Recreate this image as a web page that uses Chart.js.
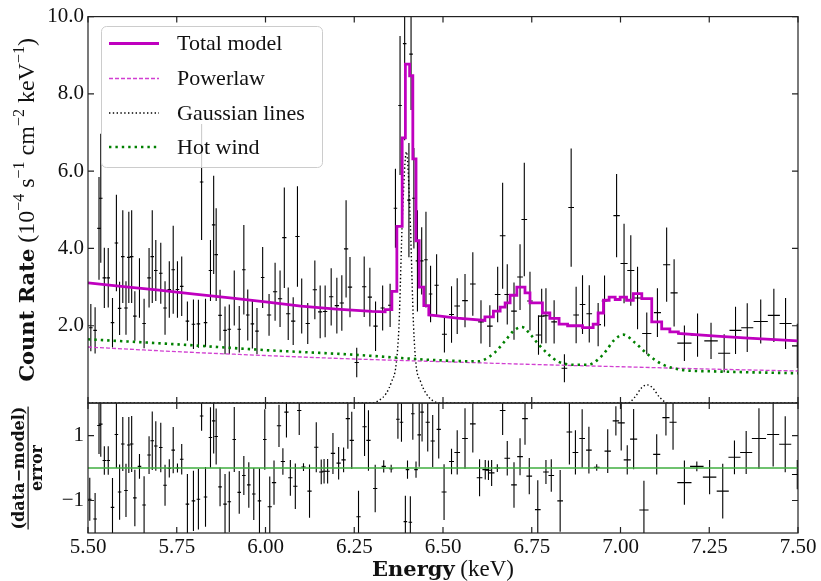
<!DOCTYPE html>
<html><head><meta charset="utf-8">
<script src="https://cdn.jsdelivr.net/npm/chart.js@4.4.1/dist/chart.umd.min.js"></script>
<style>html,body{margin:0;padding:0;background:#fff;}canvas{display:block}</style>
</head><body>
<canvas id="c" width="821" height="581"></canvas>
<script>
// ---------------- data ----------------
const energy = [5.508,5.520,5.531,5.536,5.546,5.557,5.569,5.580,5.589,5.598,
5.607,5.615,5.623,5.632,5.645,5.658,5.672,5.681,5.691,5.705,
5.717,5.729,5.740,5.752,5.764,5.780,5.797,5.811,5.820,5.831,
5.845,5.854,5.861,5.872,5.886,5.898,5.912,5.926,5.939,5.950,
5.963,5.976,5.992,
6.010,6.027,6.041,6.053,6.064,6.078,6.090,6.102,6.119,6.139,
6.154,6.168,6.185,6.201,6.215,6.227,6.238,6.257,6.278,6.294,
6.310,6.330,6.351,
6.366,6.379,6.392,6.404,6.410,6.418,6.428,6.440,6.452,6.465,
6.482,6.504,6.524,6.540,6.562,
6.584,6.607,6.632,6.654,6.668,6.681,6.700,6.717,6.729,6.745,
6.769,6.778,6.790,6.813,6.842,6.861,6.875,6.893,6.912,6.937,
6.955,6.989,
7.010,7.029,7.048,7.074,7.104,7.130,7.151,
7.180,7.217,7.255,7.292,7.324,7.357,7.395,7.432,7.465,7.498];
const energyErr = [0.005,0.005,0.005,0.005,0.005,0.005,0.005,0.005,0.005,0.005,
0.005,0.005,0.005,0.005,0.005,0.005,0.005,0.005,0.005,0.005,
0.005,0.005,0.005,0.005,0.005,0.005,0.005,0.005,0.005,0.005,
0.005,0.005,0.005,0.005,0.005,0.005,0.005,0.005,0.005,0.005,
0.005,0.005,0.005,
0.006,0.006,0.006,0.006,0.006,0.006,0.006,0.006,0.006,0.006,
0.006,0.006,0.006,0.006,0.006,0.006,0.006,0.006,0.006,0.006,
0.006,0.006,0.006,
0.005,0.005,0.005,0.005,0.005,0.005,0.005,0.005,0.005,0.005,
0.006,0.007,0.007,0.008,0.008,
0.008,0.008,0.008,0.008,0.008,0.008,0.008,0.008,0.008,0.008,
0.008,0.008,0.008,0.008,0.008,0.008,0.008,0.008,0.008,0.008,
0.008,0.009,
0.010,0.010,0.010,0.013,0.010,0.010,0.010,
0.020,0.019,0.019,0.017,0.017,0.017,0.020,0.017,0.017,0.015];
const rate = [1.95,1.88,4.52,5.30,3.24,3.24,2.08,4.14,2.45,3.79,
2.46,3.77,3.79,2.25,2.98,2.06,3.24,3.79,3.43,3.36,
2.46,2.94,3.45,2.94,3.02,2.12,2.04,2.05,5.72,2.08,
3.43,4.61,3.84,2.27,1.88,1.91,2.72,1.91,3.45,2.28,
2.05,1.86,3.25,
2.28,2.88,2.70,4.28,2.31,2.12,4.31,2.51,2.06,2.93,
2.36,2.37,2.75,2.52,2.59,3.99,3.00,1.05,3.01,2.74,
1.99,2.46,2.53,
5.04,7.70,9.30,5.25,9.03,5.30,3.68,3.68,3.71,2.82,
3.05,1.78,2.29,2.51,2.65,
3.08,2.10,1.99,2.81,4.33,2.81,2.38,3.26,4.75,2.64,
1.76,2.25,2.26,2.10,0.90,5.06,2.28,2.55,2.31,2.03,
2.64,4.85,
3.61,3.43,2.72,1.80,2.34,3.58,2.85,
1.55,1.76,1.61,1.29,1.88,1.95,2.11,2.27,2.06,1.48];
const rateErr = [0.61,0.60,1.33,1.67,0.78,0.77,0.64,1.25,0.69,1.20,
0.69,1.18,1.20,0.64,0.77,0.64,0.77,1.20,0.79,0.79,
0.69,0.73,1.14,0.73,0.77,0.51,0.64,0.62,1.50,0.62,
0.79,1.27,1.20,0.66,0.62,0.64,0.71,0.60,1.16,0.66,
0.64,0.60,0.79,
0.54,0.75,0.73,1.30,0.68,0.62,1.30,0.71,0.53,0.76,
0.68,0.67,0.74,0.72,0.72,1.26,0.78,0.38,0.78,0.76,
0.64,0.58,0.56,
1.02,1.80,2.50,1.48,1.45,1.30,1.31,0.87,1.24,0.73,
0.80,0.47,0.73,0.72,0.69,
0.82,0.56,0.54,0.72,1.37,0.78,0.74,0.85,1.47,0.76,
0.51,0.71,0.71,0.56,0.36,1.53,0.73,0.76,0.74,0.56,
0.66,1.08,
1.03,0.91,0.81,0.54,0.63,0.96,0.87,
0.46,0.56,0.47,0.49,0.61,0.63,0.57,0.69,0.66,0.57];

const resEnergy = [5.505,5.520,5.531,5.536,5.546,5.557,5.569,5.580,5.589,5.598,
5.607,5.615,5.623,5.632,5.645,5.658,5.672,5.681,5.691,5.705,
5.717,5.729,5.740,5.752,5.764,5.780,5.797,5.811,5.820,5.831,
5.845,5.854,5.861,5.872,5.886,5.898,5.912,5.926,5.939,5.953,
5.967,5.983,5.998,6.012,6.024,6.038,6.049,6.059,6.070,6.084,
6.095,6.107,6.124,6.143,6.157,6.165,6.175,6.190,6.206,6.220,
6.232,6.243,6.262,6.279,6.290,6.309,6.333,6.354,6.373,6.383,
6.394,6.400,6.408,6.415,6.424,6.433,6.441,6.457,6.471,6.488,
6.503,6.524,6.540,6.562,6.584,6.603,6.619,6.628,6.637,6.653,
6.668,6.681,6.700,6.717,6.731,6.743,6.767,6.790,6.805,6.830,
6.856,6.873,6.892,6.911,6.933,6.964,6.987,7.002,7.019,7.037,
7.066,7.102,7.128,7.148,7.180,7.215,7.251,7.288,7.321,7.354,
7.390,7.430,7.464,7.498];
const resEnergyErr = [0.005,0.005,0.005,0.005,0.005,0.005,0.005,0.005,0.005,0.005,
0.005,0.005,0.005,0.005,0.005,0.005,0.005,0.005,0.005,0.005,
0.005,0.005,0.005,0.005,0.005,0.005,0.005,0.005,0.005,0.005,
0.005,0.005,0.005,0.005,0.005,0.005,0.005,0.005,0.005,0.005,
0.005,0.005,0.005,0.006,0.006,0.006,0.006,0.006,0.006,0.006,
0.006,0.006,0.006,0.006,0.006,0.006,0.006,0.006,0.006,0.006,
0.006,0.006,0.006,0.006,0.006,0.006,0.006,0.006,0.005,0.005,
0.005,0.005,0.005,0.005,0.005,0.005,0.005,0.006,0.006,0.006,
0.007,0.007,0.008,0.008,0.008,0.008,0.008,0.008,0.008,0.008,
0.008,0.008,0.008,0.008,0.008,0.008,0.008,0.008,0.008,0.008,
0.008,0.008,0.008,0.008,0.008,0.009,0.009,0.010,0.010,0.010,
0.013,0.010,0.010,0.010,0.020,0.019,0.019,0.017,0.017,0.017,
0.020,0.017,0.017,0.015];
const resid = [-0.96,-1.57,1.31,1.35,0.23,0.23,-1.21,1.03,-0.74,0.74,
-0.69,0.71,0.74,-0.92,0.05,-1.14,0.40,0.84,0.68,0.63,
-0.53,-0.01,0.55,0.00,0.27,-1.11,-1.01,-0.96,1.60,-0.89,
0.94,1.45,0.97,-0.58,-1.11,-1.04,0.88,-0.75,-0.23,-0.52,
-0.80,-1.01,0.88,-1.19,-0.45,1.30,0.20,1.72,-0.30,-0.56,
1.77,0.03,-0.71,0.64,-0.12,-0.10,-0.10,0.45,0.15,0.25,
1.52,0.85,-1.50,1.27,0.85,-0.63,0.05,-0.02,1.50,1.41,
-1.65,-0.05,-1.67,1.67,-0.05,1.02,1.72,1.41,0.83,1.19,
-0.74,0.20,0.48,0.91,1.36,-0.30,-0.05,-0.07,-0.15,0.00,
1.77,0.30,-0.52,0.35,1.52,-0.25,-1.28,-0.12,-0.23,-1.01,
1.11,0.48,0.91,0.55,0.02,0.52,1.45,1.39,0.25,0.89,
-1.29,0.42,1.55,1.41,-0.45,0.05,-0.28,-0.71,0.33,0.48,
0.91,1.03,0.73,-0.20];
const residErr = [0.66,0.80,0.88,1.00,0.44,0.44,0.90,1.03,0.85,0.83,
0.82,0.86,0.86,0.87,0.38,0.89,0.58,0.90,0.76,0.76,
0.63,0.28,0.71,0.14,0.47,0.93,0.93,0.93,0.45,0.92,
0.93,1.00,0.86,0.60,0.93,0.93,1.00,0.66,0.60,0.70,
0.80,1.00,0.93,0.93,0.68,0.65,0.41,0.78,0.55,0.70,
0.75,0.12,0.82,0.77,0.38,0.38,0.38,0.63,0.50,0.38,
0.93,0.88,0.80,0.90,0.93,0.73,0.19,0.12,0.60,0.60,
0.80,0.28,0.80,0.80,0.25,0.98,0.90,0.90,0.80,0.90,
0.86,0.39,0.68,0.93,0.88,0.57,0.30,0.30,0.40,0.12,
0.75,0.53,0.70,0.57,0.80,0.56,0.90,0.37,0.50,0.95,
1.00,0.68,0.90,0.72,0.10,0.67,0.45,0.85,0.45,0.93,
0.90,0.62,0.55,0.85,0.68,0.15,0.53,0.84,0.52,0.66,
0.93,0.98,0.86,0.45];

// total model (step edges are repeated energies)
const modelEnergy = [5.50,5.60,5.70,5.80,5.90,6.00,6.10,6.20,6.30,6.337,6.337,6.356,6.356,6.370,6.370,6.385,6.385,6.394,6.394,6.406,6.406,6.415,6.415,6.424,6.424,6.433,6.433,6.446,6.446,6.460,6.460,6.480,6.540,6.618,6.618,6.642,6.642,6.661,6.661,6.675,6.675,6.689,6.689,6.708,6.708,6.731,6.731,6.745,6.745,6.780,6.780,6.801,6.801,6.827,6.827,6.851,6.851,6.893,6.893,6.923,6.923,6.937,6.937,6.952,6.952,6.968,6.968,6.985,6.985,6.999,6.999,7.017,7.017,7.036,7.036,7.060,7.060,7.088,7.088,7.116,7.116,7.139,7.139,7.163,7.163,7.27,7.36,7.50];
const modelRate   = [3.11,3.01,2.92,2.82,2.72,2.62,2.51,2.43,2.37,2.36,2.42,2.42,2.89,2.89,4.57,4.57,6.86,6.86,8.77,8.77,8.47,8.47,6.32,6.32,4.20,4.20,3.00,3.00,2.52,2.52,2.28,2.26,2.20,2.14,2.23,2.23,2.38,2.38,2.48,2.48,2.59,2.59,2.79,2.79,3.00,3.00,2.85,2.85,2.59,2.59,2.33,2.33,2.19,2.19,2.04,2.04,2.00,2.00,1.95,1.95,2.04,2.04,2.33,2.33,2.66,2.66,2.74,2.74,2.68,2.68,2.74,2.74,2.66,2.66,2.83,2.83,2.70,2.70,2.10,2.10,1.92,1.92,1.84,1.84,1.80,1.73,1.68,1.61];
const plEnergy = [5.50,5.75,6.00,6.25,6.50,6.75,7.00,7.25,7.50];
const plRate   = [1.45,1.33,1.23,1.14,1.07,1.00,0.94,0.88,0.83];
const gaussEnergy = [5.50,6.30,6.32,6.34,6.355,6.368,6.376,6.386,6.397,6.407,6.417,6.424,6.437,6.452,6.47,6.49,7.02,7.04,7.06,7.074,7.09,7.11,7.135,7.50];
const gaussRate   = [0,0,0.07,0.25,0.55,1.0,2.0,4.9,6.5,4.9,2.0,1.0,0.55,0.25,0.07,0,0,0.15,0.40,0.47,0.40,0.15,0,0];
const windEnergy = [5.50,5.75,6.00,6.25,6.48,6.60,6.618,6.646,6.675,6.698,6.722,6.745,6.769,6.797,6.825,6.872,6.909,6.937,6.961,6.980,7.008,7.041,7.078,7.116,7.172,7.26,7.50];
const windRate   = [1.65,1.52,1.37,1.25,1.11,1.08,1.13,1.31,1.61,1.86,1.97,1.79,1.52,1.26,1.07,0.99,0.99,1.13,1.37,1.61,1.77,1.56,1.25,1.01,0.86,0.82,0.77];

const xTicks = [5.50,5.75,6.00,6.25,6.50,6.75,7.00,7.25,7.50];
const rateTicks = [2,4,6,8,10];
const residTicks = [-1,1];
const legendLabels = ['Total model','Powerlaw','Gaussian lines','Hot wind'];

// ---------------- styling ----------------
const SERIF = '"Liberation Serif","DejaVu Serif",serif';
const BOLDF = '"DejaVu Serif","Liberation Serif",serif';
const TXT = '#111';
const pts = (xs, ys) => xs.map((x, i) => ({x: x, y: ys[i]}));

const datasets = [
  {label:'data', data: pts(energy, rate), yAxisID:'y', showLine:false, pointRadius:0, order:10,
   xErr: energyErr, yErr: rateErr},
  {label: legendLabels[0], data: pts(modelEnergy, modelRate), yAxisID:'y', showLine:true, pointRadius:0,
   borderColor:'#bf00bf', borderWidth:2.8, tension:0, order:0, borderJoinStyle:'miter'},
  {label: legendLabels[1], data: pts(plEnergy, plRate), yAxisID:'y', showLine:true, pointRadius:0,
   borderColor:'#d13fd1', borderWidth:1.3, borderDash:[4,2], cubicInterpolationMode:'monotone', order:3},
  {label: legendLabels[2], data: pts(gaussEnergy, gaussRate), yAxisID:'y', showLine:true, pointRadius:0,
   borderColor:'#000000', borderWidth:1.4, borderDash:[1.4,2.4], cubicInterpolationMode:'monotone', order:2},
  {label: legendLabels[3], data: pts(windEnergy, windRate), yAxisID:'y', showLine:true, pointRadius:0,
   borderColor:'#008000', borderWidth:2.6, borderDash:[2.4,4], cubicInterpolationMode:'monotone', order:1},
  {label:'residuals', data: pts(resEnergy, resid), yAxisID:'y2', showLine:false, pointRadius:0, order:10,
   xErr: resEnergyErr, yErr: residErr},
  {label:'zero', data: [{x:5.5,y:0},{x:7.5,y:0}], yAxisID:'y2', showLine:true, pointRadius:0,
   borderColor:'#3fae3f', borderWidth:1.6, order:1}
];

function drawErr(chart, idx, ys) {
  const ctx = chart.ctx, xs = chart.scales.x, ds = chart.data.datasets[idx];
  ctx.save();
  ctx.beginPath(); ctx.rect(xs.left, ys.top, xs.right - xs.left, ys.bottom - ys.top); ctx.clip();
  ctx.strokeStyle = '#000'; ctx.lineWidth = 1.1;
  ds.data.forEach((p, i) => {
    const x = xs.getPixelForValue(p.x), y = ys.getPixelForValue(p.y);
    const y0 = ys.getPixelForValue(p.y - ds.yErr[i]), y1 = ys.getPixelForValue(p.y + ds.yErr[i]);
    const x0 = xs.getPixelForValue(p.x - ds.xErr[i]), x1 = xs.getPixelForValue(p.x + ds.xErr[i]);
    ctx.beginPath(); ctx.moveTo(x, y0); ctx.lineTo(x, y1); ctx.moveTo(x0, y); ctx.lineTo(x1, y); ctx.stroke();
  });
  ctx.restore();
}

function drawRich(ctx, segs, x, y, rotate) {
  ctx.save(); ctx.translate(x, y); if (rotate) ctx.rotate(-Math.PI / 2);
  let total = 0;
  segs.forEach(s => { ctx.font = s[1]; s.w = ctx.measureText(s[0]).width; total += s.w; });
  let cx = -total / 2;
  ctx.textBaseline = 'alphabetic'; ctx.textAlign = 'left'; ctx.fillStyle = TXT;
  segs.forEach(s => { ctx.font = s[1]; ctx.fillText(s[0], cx, s[2] || 0); cx += s.w; });
  ctx.restore();
}

const decor = {
  id: 'decor',
  beforeDatasetsDraw(chart) {
    drawErr(chart, 0, chart.scales.y);
    drawErr(chart, 5, chart.scales.y2);
  },
  afterDatasetsDraw(chart) {
    const ctx = chart.ctx, xs = chart.scales.x, ys = chart.scales.y, rs = chart.scales.y2;
    const L = 6;
    ctx.save();
    ctx.strokeStyle = '#222'; ctx.lineWidth = 1.2; ctx.setLineDash([]);
    ctx.strokeRect(xs.left, ys.top, xs.right - xs.left, ys.bottom - ys.top);
    ctx.strokeRect(xs.left, rs.top, xs.right - xs.left, rs.bottom - rs.top);
    ctx.beginPath();
    xTicks.forEach(v => {
      const px = xs.getPixelForValue(v);
      ctx.moveTo(px, ys.top); ctx.lineTo(px, ys.top + L);
      ctx.moveTo(px, ys.bottom); ctx.lineTo(px, ys.bottom - L);
      ctx.moveTo(px, rs.top); ctx.lineTo(px, rs.top + L);
      ctx.moveTo(px, rs.bottom); ctx.lineTo(px, rs.bottom - L);
    });
    rateTicks.forEach(v => {
      const py = ys.getPixelForValue(v);
      ctx.moveTo(xs.left, py); ctx.lineTo(xs.left + L, py);
      ctx.moveTo(xs.right, py); ctx.lineTo(xs.right - L, py);
    });
    residTicks.forEach(v => {
      const py = rs.getPixelForValue(v);
      ctx.moveTo(xs.left, py); ctx.lineTo(xs.left + L, py);
      ctx.moveTo(xs.right, py); ctx.lineTo(xs.right - L, py);
    });
    ctx.stroke();
    // legend
    const bx = 101.5, by = 26.5, bw = 221, bh = 141;
    ctx.beginPath(); ctx.roundRect(bx, by, bw, bh, 5);
    ctx.fillStyle = 'rgba(255,255,255,0.8)'; ctx.fill();
    ctx.strokeStyle = '#cccccc'; ctx.lineWidth = 1; ctx.stroke();
    const rows = [43.5, 78.5, 113, 147];
    [1, 2, 3, 4].forEach((di, k) => {
      const d = chart.data.datasets[di];
      ctx.beginPath(); ctx.setLineDash(d.borderDash || []);
      ctx.strokeStyle = d.borderColor; ctx.lineWidth = d.borderWidth;
      ctx.moveTo(109, rows[k]); ctx.lineTo(159, rows[k]); ctx.stroke();
      ctx.setLineDash([]);
      ctx.fillStyle = TXT; ctx.font = '22px ' + SERIF; ctx.textBaseline = 'middle'; ctx.textAlign = 'left';
      ctx.fillText(d.label, 177, rows[k] + 1);
    });
    ctx.restore();
  },
  afterDraw(chart) {
    const ctx = chart.ctx, xs = chart.scales.x, ys = chart.scales.y, rs = chart.scales.y2;
    const R = '24px ' + SERIF, S = '16px ' + SERIF, B = 'bold 21px ' + BOLDF;
    drawRich(ctx, [['Count Rate', B], [' (10', R], ['\u22124', S, -10], [' s', R], ['\u22121', S, -10],
      [' cm', R], ['\u22122', S, -10], [' keV', R], ['\u22121', S, -10], [')', R]],
      34, (ys.top + ys.bottom) / 2, true);
    drawRich(ctx, [['Energy', B], [' (keV)', '23px ' + SERIF]], (xs.left + xs.right) / 2, 576, false);
    // residual label as a fraction
    ctx.save();
    ctx.translate(0, (rs.top + rs.bottom) / 2); ctx.rotate(-Math.PI / 2);
    ctx.fillStyle = TXT; ctx.textAlign = 'center'; ctx.textBaseline = 'alphabetic';
    ctx.font = 'bold 16px ' + BOLDF;
    const num = '(data\u2212model)';
    const w = ctx.measureText(num).width;
    ctx.fillText(num, 0, 24);
    ctx.fillText('error', 0, 42);
    ctx.fillRect(-w / 2, 27.5, w, 1.2);
    ctx.restore();
  }
};

const tickFont = {family: SERIF, size: 21};
new Chart(document.getElementById('c'), {
  type: 'scatter',
  data: {datasets: datasets},
  options: {
    responsive: false, animation: false, devicePixelRatio: 1,
    layout: {padding: {left: 0, right: 23, top: 14, bottom: 0}},
    plugins: {legend: {display: false}, tooltip: {enabled: false}},
    scales: {
      x: {type: 'linear', min: 5.5, max: 7.5, position: 'bottom',
        afterBuildTicks: s => { s.ticks = xTicks.map(v => ({value: v})); },
        afterFit: s => { s.height = 48; },
        ticks: {font: tickFont, color: TXT, padding: 2, autoSkip: false, maxRotation: 0,
          callback: v => Number(v).toFixed(2)},
        grid: {display: false, drawTicks: false}, border: {display: false}},
      y: {type: 'linear', position: 'left', stack: 'panels', stackWeight: 2.974, weight: 1, min: 0, max: 10,
        afterBuildTicks: s => { s.ticks = rateTicks.map(v => ({value: v})); },
        afterFit: s => { s.width = 88; },
        ticks: {font: tickFont, color: TXT, padding: 4, callback: v => Number(v).toFixed(1)},
        grid: {display: false, drawTicks: false}, border: {display: false}},
      y2: {type: 'linear', position: 'left', stack: 'panels', stackWeight: 1, weight: 0, min: -2, max: 2,
        afterBuildTicks: s => { s.ticks = residTicks.map(v => ({value: v})); },
        afterFit: s => { s.width = 88; },
        ticks: {font: tickFont, color: TXT, padding: 4, callback: v => (v < 0 ? '\u2212' : '') + Math.abs(v)},
        grid: {display: false, drawTicks: false}, border: {display: false}}
    }
  },
  plugins: [decor]
});
</script>
</body></html>
